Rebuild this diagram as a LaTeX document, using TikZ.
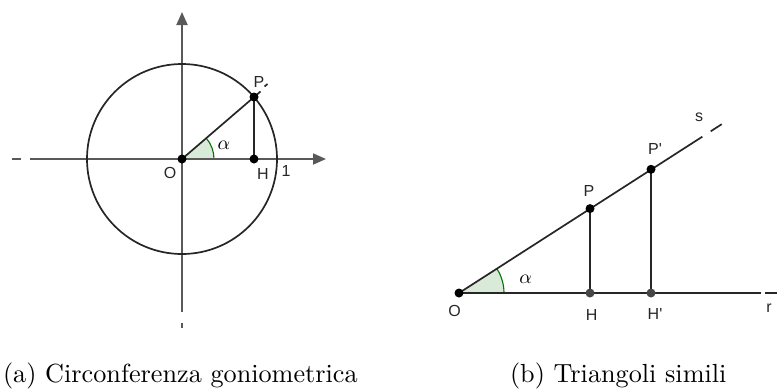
\documentclass[tikz,border=0pt]{standalone}
\usepackage{fontspec}
\newfontfamily\lblfont{Liberation Sans}
\usetikzlibrary{arrows.meta}
\begin{document}
\begin{tikzpicture}[x=1pt,y=-1pt,
  axisline/.style={draw=black!65,line width=1.8pt},
  geoline/.style={draw=black!85,line width=1.7pt},
  dot/.style={circle,fill=black,inner sep=0pt,minimum size=9pt},
  graydot/.style={circle,fill=black!72,inner sep=0pt,minimum size=9pt},
  lbl/.style={font=\lblfont\fontsize{16}{16}\selectfont,text=black!85,inner sep=0pt},
  alab/.style={font=\fontsize{10}{10}\selectfont,scale=1.95,inner sep=0pt},
  captext/.style={font=\fontsize{10}{12}\selectfont,scale=2.62,inner sep=0pt},
  tip/.style={-{Triangle[length=13pt,width=11pt]}}]
\useasboundingbox (0,0) rectangle (778,389);
% ---------- (a) ----------
\coordinate (Oa) at (182,159);
\coordinate (xl) at (30,159);
\coordinate (xr) at (326,159);
\coordinate (yb) at (182,312);
\coordinate (yt) at (182,12);
\coordinate (xd1) at (12,159);
\coordinate (xd2) at (21,159);
\coordinate (yd1) at (182,323);
\coordinate (yd2) at (182,328);
\coordinate (Pa) at (254,97);
\coordinate (Ha) at (254,159);
\coordinate (Pe) at (260.5,91.5);
\coordinate (pd1) at (264.5,86.5);
\coordinate (pd2) at (267.5,84);
\fill[green!45!black!15] (Oa) -- ++(32,0) arc (0:-40.7:32) -- cycle;
\draw[green!45!black,line width=1.1pt] (Oa) ++(32,0) arc (0:-40.7:32);
\draw[axisline] (xd1) -- (xd2);
\draw[axisline,tip] (xl) -- (xr);
\draw[axisline] (yd1) -- (yd2);
\draw[axisline,tip] (yb) -- (yt);
\draw[geoline] (Oa) circle[radius=95];
\draw[geoline] (Oa) -- (Pe);
\draw[geoline] (pd1) -- (pd2);
\draw[geoline] (Pa) -- (Ha);
\node[dot] (nOa) at (Oa) {};
\node[dot] (nPa) at (Pa) {};
\node[dot] (nHa) at (Ha) {};
\node[lbl] (lOa) at (170,173) {O};
\node[lbl] (lHa) at (263,174) {H};
\node[lbl] (l1) at (286,171) {1};
\node[lbl] (lPa) at (259,81.5) {P};
\node[alab] (laa) at (224,145) {$\alpha$};
% ---------- (b) ----------
\coordinate (Ob) at (459,293);
\coordinate (Hb) at (590,293);
\coordinate (Hpb) at (651,293);
\coordinate (Pb) at (590,208.6);
\coordinate (Ppb) at (651,169.3);
\coordinate (se) at (702.3,136.7);
\coordinate (sd1) at (710.7,131.3);
\coordinate (sd2) at (721.7,124.2);
\coordinate (re) at (760.7,293);
\coordinate (rd1) at (765,293);
\coordinate (rd2) at (777,293);
\fill[green!45!black!15] (Ob) -- ++(45,0) arc (0:-32.8:45) -- cycle;
\draw[green!45!black,line width=1.1pt] (Ob) ++(45,0) arc (0:-32.8:45);
\draw[geoline] (Ob) -- (se);
\draw[geoline] (sd1) -- (sd2);
\draw[geoline] (Ob) -- (re);
\draw[geoline] (rd1) -- (rd2);
\draw[geoline] (Pb) -- (Hb);
\draw[geoline] (Ppb) -- (Hpb);
\node[dot] (nOb) at (Ob) {};
\node[dot] (nPb) at (Pb) {};
\node[dot] (nPpb) at (Ppb) {};
\node[graydot] (nHb) at (Hb) {};
\node[graydot] (nHpb) at (Hpb) {};
\node[lbl] (lOb) at (454.7,310.7) {O};
\node[lbl] (lHb) at (591.7,315) {H};
\node[lbl] (lHpb) at (655,314) {H'};
\node[lbl] (lPb) at (589,191) {P};
\node[lbl] (lPpb) at (655,149.3) {P'};
\node[lbl] (ls) at (699,117.3) {s};
\node[lbl] (lr) at (769,308) {r};
\node[alab] (lab) at (525.7,279.3) {$\alpha$};
% ---------- captions ----------
\node[captext,anchor=base west] (capa) at (2.5,382.5) {(a) Circonferenza goniometrica};
\node[captext,anchor=base west] (capb) at (509.5,382.5) {(b) Triangoli simili};
\end{tikzpicture}
\end{document}
